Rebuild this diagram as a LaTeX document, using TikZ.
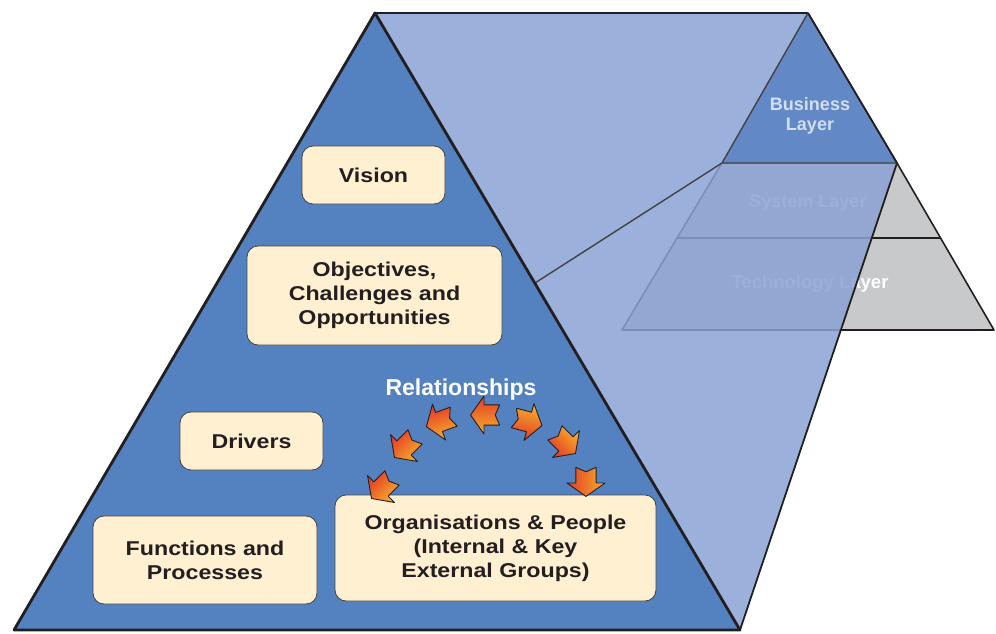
\documentclass[tikz,border=0pt]{standalone}
\usepackage{fontspec}
\setmainfont{Liberation Sans}
\newfontfamily\narrowfont[FakeStretch=1.16]{Liberation Sans}
\definecolor{pyrblue}{HTML}{5482C0}
\definecolor{bandblue}{HTML}{8AA2D4}
\definecolor{buslayer}{HTML}{6289C5}
\definecolor{laygray}{HTML}{C8C9CB}
\definecolor{boxcream}{HTML}{FFF0D2}
\definecolor{inkdark}{HTML}{231F20}
\definecolor{laytext}{HTML}{D3DEF2}
\definecolor{tipred}{HTML}{E43A26}
\definecolor{tailorange}{HTML}{F7B02C}
\begin{document}
\begin{tikzpicture}[x=1pt,y=-1pt,
  box/.style={draw=inkdark!85,line width=0.8pt,fill=boxcream,rounded corners=11pt,
    align=center,text=inkdark,inner sep=0pt,
    font=\narrowfont\bfseries\fontsize{20}{24}\selectfont},
  laylabel/.style={align=center,font=\bfseries\fontsize{18}{20}\selectfont},
  relarrow/.style={draw=inkdark,line width=0.9pt,line join=round,
    left color=tipred,right color=tailorange}]
\useasboundingbox (0,0) rectangle (996,634);
% corners
\coordinate (apex) at (375,13);
\coordinate (baseL) at (14,630);
\coordinate (baseR) at (740,630);
\coordinate (side) at (535,283);
\coordinate (apexS) at (808,13);
\coordinate (sysL) at (722,163);
\coordinate (sysR) at (897,163);
\coordinate (tecL) at (676,238);
\coordinate (tecR) at (940,238);
\coordinate (botL) at (622,330);
\coordinate (botR) at (994,330);
% small pyramid, lower layers
\filldraw[fill=laygray,draw=inkdark,line width=1.6pt,line join=round]
  (sysL) -- (sysR) -- (botR) -- (botL) -- cycle;
\draw[inkdark,line width=1.6pt] (tecL) -- (tecR);
\node[laylabel,white] (sys) at (808,203) {System Layer};
\node[laylabel,white,font=\bfseries\fontsize{18.5}{20}\selectfont] (tec) at (810,284) {Technology Layer};
% band
\fill[bandblue,fill opacity=0.85] (apex) -- (apexS) -- (sysR) -- (baseR) -- cycle;
\draw[inkdark,line width=2.4pt] (apex) -- (apexS);
\draw[inkdark,line width=1.8pt] (sysR) -- (baseR);
% business layer
\filldraw[fill=buslayer,draw=inkdark!85,line width=1.4pt,line join=round]
  (apexS) -- (sysL) -- (sysR) -- cycle;
\draw[inkdark,line width=1.8pt] (apexS) -- (sysR);
\node[laylabel,text=laytext] (bus) at (810,116) {Business\\Layer};
\draw[inkdark!85,line width=1.4pt] (side) -- (sysL);
% big pyramid
\filldraw[fill=pyrblue,draw=inkdark,line width=2.8pt,line join=round]
  (apex) -- (baseL) -- (baseR) -- cycle;
% boxes
\node[box,minimum width=143pt,minimum height=58pt] (vision) at (373.5,175) {Vision};
\node[box,minimum width=255pt,minimum height=99pt] (objectives) at (374.5,295.5)
  {Objectives,\\Challenges and\\Opportunities};
\node[box,minimum width=143pt,minimum height=58pt] (drivers) at (251.5,441) {Drivers};
\node[box,minimum width=224pt,minimum height=88pt] (functions) at (205,560)
  {Functions and\\Processes};
\node[box,minimum width=321pt,minimum height=106pt] (orgs) at (495.5,548)
  {Organisations \& People\\(Internal \& Key\\External Groups)};
\node[white,font=\bfseries\fontsize{23}{26}\selectfont] (rel) at (461,390) {Relationships};
% arrows
\foreach \x/\y/\a/\s in {381/489/225/45, 404/448/225/45, 439/422/200/20, 484/415/180/0,
    529/422/-15/165, 566/444/-45/135, 586/483/-90/90}
{
  \begin{scope}[shift={(\x,\y)},rotate=\a,scale=1.12]
  \draw[relarrow,shading angle=\s] (-14,9) -- (0,9) -- (0,17) -- (12,0) -- (0,-17)
    -- (0,-9) -- (-14,-9) -- (-10,0) -- cycle;
  \end{scope}
}
\end{tikzpicture}
\end{document}
